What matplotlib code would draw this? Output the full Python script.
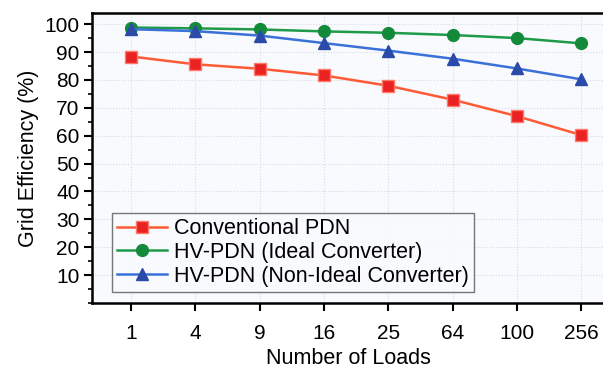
import matplotlib.pyplot as plt
from matplotlib.ticker import MultipleLocator

plt.rcParams['font.family'] = ['Liberation Sans', 'DejaVu Sans']

loads = ['1', '4', '9', '16', '25', '64', '100', '256']
conventional = [88.4, 85.6, 84.0, 81.6, 77.9, 72.9, 67.0, 60.2]
hv_ideal = [98.8, 98.5, 98.1, 97.4, 96.9, 96.1, 95.0, 93.1]
hv_nonideal = [98.2, 97.5, 95.9, 93.2, 90.5, 87.6, 84.1, 80.2]

x = range(len(loads))

fig = plt.figure(figsize=(6.03, 3.68), dpi=100)
ax = fig.add_axes([92 / 603, 1 - 303 / 368, 512 / 603, 290 / 368])
ax.set_facecolor('#f9fafd')

ax.plot(x, conventional, color='#ff5a36', lw=1.8, marker='s', ms=8,
        mfc='#ea2222', mec='#ff7a6a', mew=1, label='Conventional PDN')
ax.plot(x, hv_ideal, color='#1f9a48', lw=1.8, marker='o', ms=8.5,
        mfc='#138a3a', mec='#138a3a', label='HV-PDN (Ideal Converter)')
ax.plot(x, hv_nonideal, color='#3a70d8', lw=1.8, marker='^', ms=9,
        mfc='#2b4ba8', mec='#2b4ba8', label='HV-PDN (Non-Ideal Converter)')

ax.set_xlim(-0.607, 7.35)
ax.set_ylim(0, 104)
ax.set_xticks(list(x))
ax.set_xticklabels(loads)
ax.set_yticks(range(10, 101, 10))
ax.yaxis.set_minor_locator(MultipleLocator(5))

ax.grid(True, color='#d3dbe8', lw=0.8, ls=':')
ax.set_axisbelow(True)

for s in ['left', 'bottom', 'top']:
    ax.spines[s].set_linewidth(1.8)
ax.spines['right'].set_visible(False)

ax.tick_params(axis='both', which='major', direction='out', length=6,
               width=1.5, labelsize=15, pad=3)
ax.tick_params(axis='y', which='minor', direction='out', length=3, width=1.2)
ax.tick_params(axis='x', pad=9)

ax.set_xlabel('Number of Loads', fontsize=15.5, labelpad=4)
ax.set_ylabel('Grid Efficiency (%)', fontsize=15.5, labelpad=4)

leg = ax.legend(loc='lower left', bbox_to_anchor=(0.039, 0.038), fontsize=15.5,
                frameon=True, fancybox=False, handlelength=2.3,
                handletextpad=0.33, borderpad=0.25, labelspacing=0.12,
                borderaxespad=0)
leg.get_frame().set_edgecolor('#555555')
leg.get_frame().set_linewidth(1.0)
leg.get_frame().set_facecolor('#fafbfd')

fig.savefig('out.png', dpi=100)
